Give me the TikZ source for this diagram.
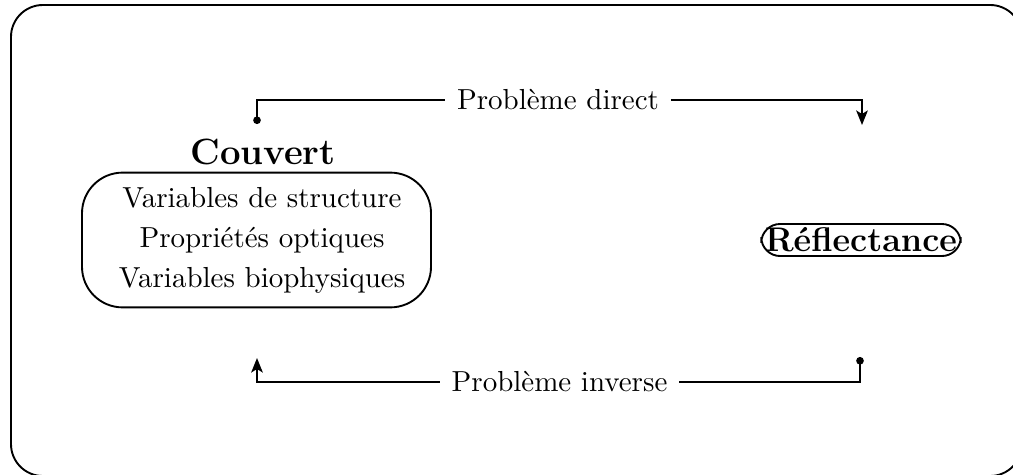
\documentclass[tikz,border=0pt]{standalone}
\usetikzlibrary{arrows.meta}
\begin{document}
\begin{tikzpicture}[x=0.345pt,y=-0.345pt,
  line width=0.65pt,
  frame/.style={draw,rounded corners=11pt},
  inbox/.style={draw,rounded corners=14pt,minimum width=120.4pt,minimum height=46.5pt},
  lbl/.style={inner sep=3.8pt,font=\normalsize},
  title/.style={font=\fontsize{12.6}{15}\bfseries},
  pill/.style={draw,rounded corners=6.5pt,inner sep=1.3pt,font=\fontsize{11.8}{14}\bfseries}
]
\useasboundingbox (0,0) rectangle (1013,474);
\draw[frame] (11,5) rectangle (1022,476);
% Couvert
\node[title] (couvert) at (263,152) {Couvert};
\node[inbox] (cbox) at (256.5,240) {};
\node[align=center] (ctext) at (262,240) {Variables de structure\\[1.8pt]Propriétés optiques\\[1.8pt]Variables biophysiques};
% Reflectance
\node[pill] (refl) at (861,240) {Réflectance};
% connectors
\coordinate (ds) at (257,124);
\coordinate (de) at (862,125);
\node[lbl] (direct) at (558,100) {Problème direct};
\coordinate (is) at (860,357);
\coordinate (ie) at (257,358);
\node[lbl] (inverse) at (559.5,382) {Problème inverse};
\draw[{Circle[length=2.6pt]}-] (ds) |- (direct.west);
\draw[-{Stealth[length=5pt,width=4pt,inset=1.2pt]}] (direct.east) -| (de);
\draw[{Circle[length=2.6pt]}-] (is) |- (inverse.east);
\draw[-{Stealth[length=5pt,width=4pt,inset=1.2pt]}] (inverse.west) -| (ie);
\end{tikzpicture}
\end{document}
